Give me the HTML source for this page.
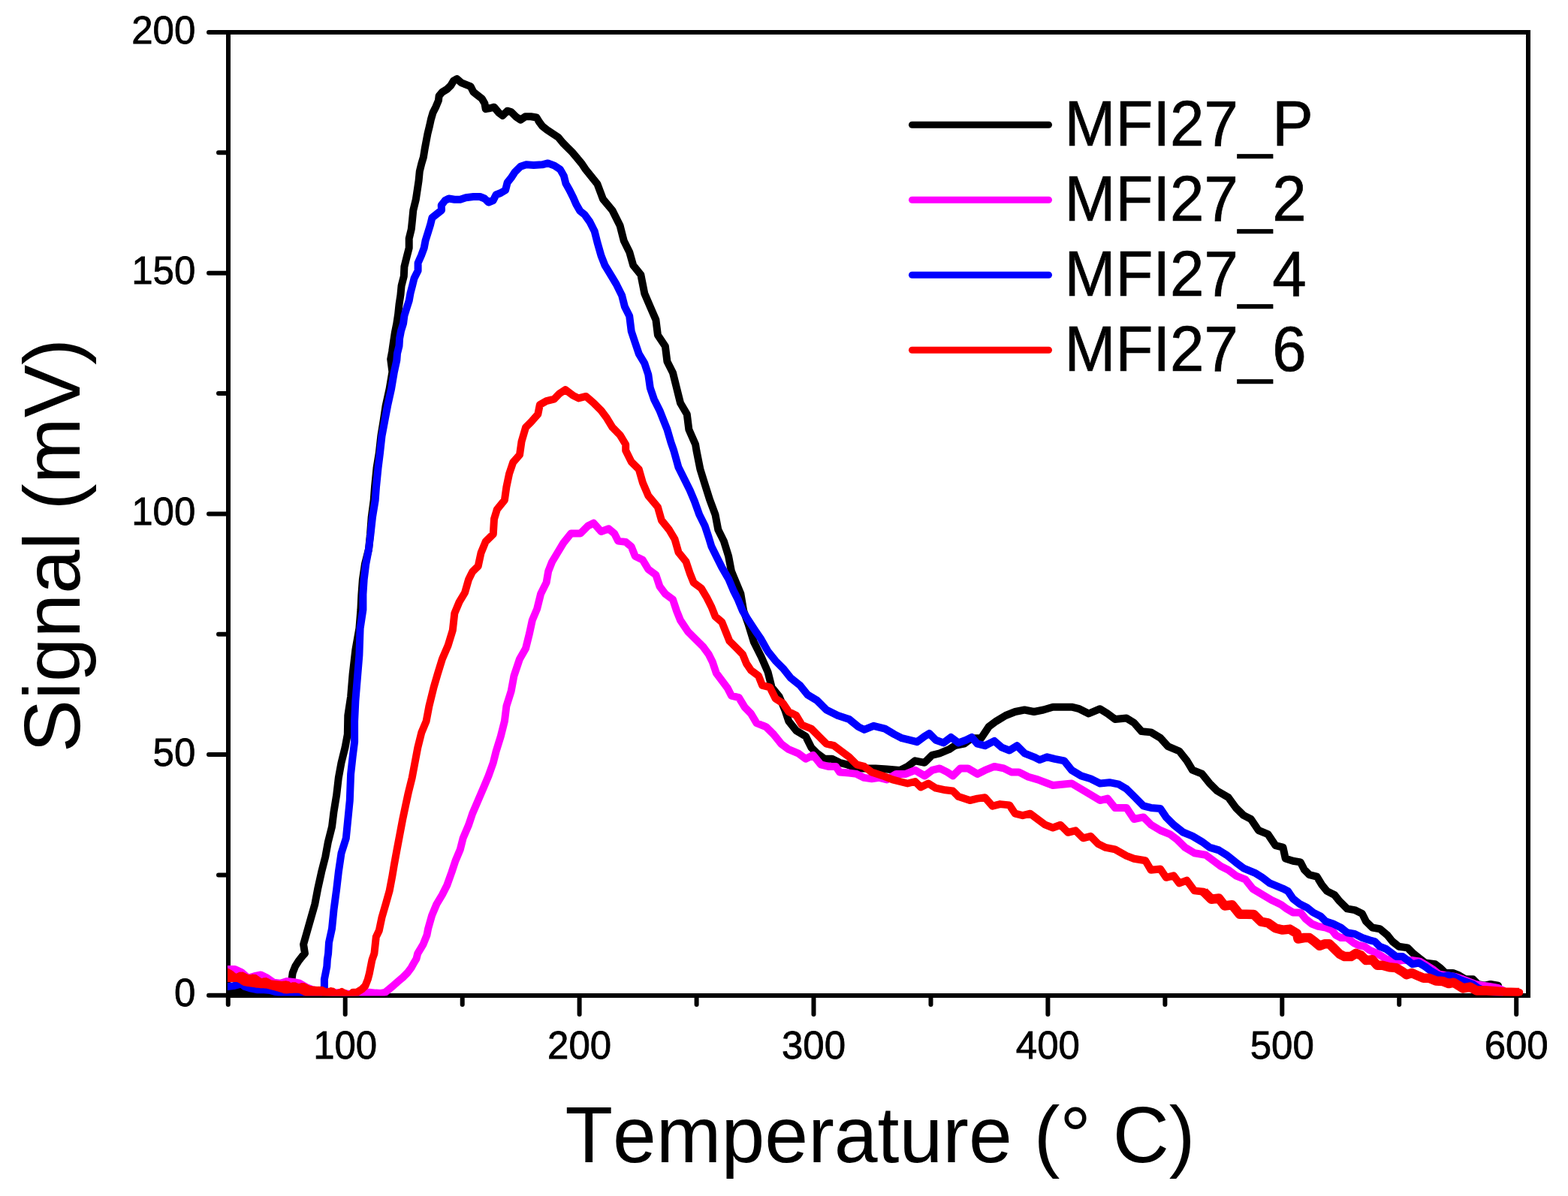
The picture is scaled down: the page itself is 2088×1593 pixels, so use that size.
<!DOCTYPE html><html><head><meta charset="utf-8"><style>html,body{margin:0;padding:0;background:#fff;}svg{display:block;}text{font-family:'Liberation Sans', Arial, sans-serif;fill:#000;font-kerning:none;}</style></head><body>
<svg width="2088" height="1593" viewBox="0 0 2088 1593">
<rect x="0" y="0" width="2088" height="1593" fill="#fff"/>
<g stroke="#000" stroke-width="6" fill="none">
<rect x="304" y="43" width="1731" height="1283"/>
<line x1="303.8" y1="1326" x2="303.8" y2="1338" stroke-linecap="round"/>
<line x1="459.7" y1="1326" x2="459.7" y2="1351" stroke-linecap="round"/>
<line x1="615.7" y1="1326" x2="615.7" y2="1338" stroke-linecap="round"/>
<line x1="771.6" y1="1326" x2="771.6" y2="1351" stroke-linecap="round"/>
<line x1="927.6" y1="1326" x2="927.6" y2="1338" stroke-linecap="round"/>
<line x1="1083.5" y1="1326" x2="1083.5" y2="1351" stroke-linecap="round"/>
<line x1="1239.5" y1="1326" x2="1239.5" y2="1338" stroke-linecap="round"/>
<line x1="1395.4" y1="1326" x2="1395.4" y2="1351" stroke-linecap="round"/>
<line x1="1551.4" y1="1326" x2="1551.4" y2="1338" stroke-linecap="round"/>
<line x1="1707.3" y1="1326" x2="1707.3" y2="1351" stroke-linecap="round"/>
<line x1="1863.2" y1="1326" x2="1863.2" y2="1338" stroke-linecap="round"/>
<line x1="2019.2" y1="1326" x2="2019.2" y2="1351" stroke-linecap="round"/>
<line x1="303" y1="1325.8" x2="278" y2="1325.8" stroke-linecap="round"/>
<line x1="303" y1="1165.5" x2="291" y2="1165.5" stroke-linecap="round"/>
<line x1="303" y1="1005.1" x2="278" y2="1005.1" stroke-linecap="round"/>
<line x1="303" y1="844.8" x2="291" y2="844.8" stroke-linecap="round"/>
<line x1="303" y1="684.4" x2="278" y2="684.4" stroke-linecap="round"/>
<line x1="303" y1="524.0" x2="291" y2="524.0" stroke-linecap="round"/>
<line x1="303" y1="363.7" x2="278" y2="363.7" stroke-linecap="round"/>
<line x1="303" y1="203.3" x2="291" y2="203.3" stroke-linecap="round"/>
<line x1="303" y1="43.0" x2="278" y2="43.0" stroke-linecap="round"/>
</g>
<defs><clipPath id="pc"><rect x="303" y="0" width="1733" height="1326.5"/></clipPath></defs><g clip-path="url(#pc)">
<path d="M303.0,1321.7 L321.6,1320.0 L338.8,1322.6 L359.5,1320.9 L373.3,1324.3 L384.5,1324.3 L387.9,1308.8 L389.7,1295.9 L393.1,1287.2 L397.4,1280.3 L403.4,1272.6 L406.0,1270.0 L404.1,1257.9 L409.3,1239.5 L414.3,1221.9 L419.3,1204.3 L423.1,1184.2 L428.1,1161.6 L433.2,1141.5 L436.9,1121.4 L442.0,1101.3 L444.5,1081.2 L448.2,1058.6 L450.8,1036.0 L454.5,1015.9 L459.5,995.8 L462.8,978.2 L463.3,953.1 L467.1,927.9 L469.6,897.8 L473.4,865.1 L478.4,837.0 L480.4,811.9 L481.4,791.8 L482.9,771.7 L485.9,751.6 L491.0,731.5 L493.0,711.4 L494.7,688.7 L497.7,666.1 L499.0,648.5 L501.5,623.4 L504.8,603.3 L507.3,580.7 L510.6,560.6 L513.6,540.5 L518.6,517.9 L522.4,495.3 L520.2,478.4 L522.1,468.3 L523.9,455.8 L525.8,443.2 L528.3,430.7 L530.2,418.1 L531.5,405.5 L533.4,393.0 L534.6,380.4 L537.8,367.9 L538.4,355.3 L541.5,342.8 L544.7,330.2 L544.7,317.7 L547.8,305.1 L549.1,292.6 L550.3,280.0 L553.8,265.7 L555.7,253.2 L557.6,240.6 L558.8,228.1 L561.3,218.0 L563.9,209.3 L565.7,198.0 L567.6,187.9 L569.5,177.9 L572.0,167.8 L573.9,159.0 L576.4,150.3 L580.2,142.7 L583.9,133.9 L584.6,127.7 L589.0,122.6 L595.2,118.9 L600.3,113.9 L604.0,107.6 L608.4,105.1 L614.1,110.1 L620.3,112.6 L626.6,115.1 L630.4,122.6 L635.4,126.4 L641.7,131.4 L645.4,137.7 L646.7,145.2 L653.0,144.0 L658.0,142.7 L664.3,150.3 L669.3,154.0 L675.6,147.7 L680.6,149.0 L686.9,155.3 L693.2,159.7 L699.4,155.3 L707.0,155.3 L714.5,156.5 L718.3,162.8 L722.0,167.8 L728.3,172.9 L735.8,177.9 L743.4,182.9 L749.6,190.4 L755.9,196.7 L762.2,203.0 L768.5,210.5 L774.7,218.0 L779.8,225.6 L795.5,245.2 L803.0,265.3 L815.6,280.4 L825.6,300.5 L830.7,320.6 L838.2,335.7 L843.2,353.3 L853.3,365.8 L858.3,391.0 L865.8,408.5 L873.4,426.1 L875.9,446.2 L885.9,461.3 L888.4,481.4 L896.0,496.5 L901.0,516.6 L906.0,536.7 L914.8,551.8 L917.3,571.9 L926.1,592.0 L927.4,600.0 L932.4,625.1 L938.7,645.2 L945.0,665.3 L952.5,685.4 L956.3,705.5 L963.8,720.6 L970.1,740.7 L973.9,760.8 L980.2,775.9 L986.4,791.0 L990.2,813.6 L996.5,831.2 L1003.8,855.0 L1013.8,875.1 L1022.6,895.2 L1027.6,915.3 L1037.7,927.9 L1045.2,945.5 L1050.3,960.6 L1060.3,973.1 L1072.9,980.7 L1080.4,995.7 L1087.9,1003.3 L1098.0,1010.8 L1108.0,1010.8 L1118.1,1015.8 L1128.1,1018.3 L1140.7,1023.4 L1165.8,1023.4 L1180.9,1024.6 L1198.5,1025.9 L1208.5,1020.9 L1218.6,1013.3 L1231.2,1015.8 L1241.2,1005.8 L1251.3,1003.3 L1263.8,998.2 L1271.4,993.2 L1283.9,990.7 L1294.0,983.2 L1306.5,983.2 L1316.6,968.1 L1326.6,960.6 L1339.2,953.0 L1351.8,948.0 L1364.3,945.5 L1376.9,948.0 L1389.4,945.5 L1402.0,941.7 L1414.6,941.7 L1427.1,941.7 L1437.2,944.2 L1449.7,950.5 L1464.8,944.2 L1474.9,950.5 L1484.9,958.0 L1500.0,956.5 L1510.1,962.8 L1520.1,974.1 L1532.7,975.4 L1545.2,982.9 L1555.3,994.2 L1570.4,1000.5 L1580.4,1013.1 L1587.9,1025.6 L1600.5,1030.7 L1610.6,1043.2 L1620.6,1053.3 L1635.7,1062.1 L1645.7,1075.9 L1655.8,1085.9 L1665.8,1091.0 L1675.9,1106.0 L1688.4,1111.1 L1698.5,1126.1 L1708.5,1128.6 L1711.7,1143.4 L1721.8,1146.7 L1731.8,1148.4 L1736.9,1158.4 L1743.6,1165.1 L1753.6,1167.7 L1760.3,1178.6 L1767.0,1186.9 L1777.1,1192.0 L1783.8,1200.3 L1793.9,1210.4 L1803.9,1212.1 L1814.0,1217.1 L1819.0,1227.2 L1827.4,1235.5 L1837.4,1237.2 L1847.5,1245.6 L1854.2,1254.0 L1862.6,1260.7 L1874.3,1262.4 L1881.0,1269.1 L1889.4,1275.8 L1897.8,1282.5 L1911.2,1284.2 L1917.9,1289.2 L1924.6,1295.9 L1934.7,1295.9 L1943.0,1299.2 L1951.4,1304.3 L1961.5,1304.3 L1968.2,1311.0 L1976.6,1312.6 L1984.9,1311.0 L1995.0,1312.6" fill="none" stroke="#000000" stroke-width="10" stroke-linejoin="round" stroke-linecap="round"/>
<path d="M303.0,1291.1 L312.9,1291.1 L321.6,1295.0 L330.2,1302.8 L338.8,1300.2 L347.4,1298.4 L356.0,1302.8 L364.7,1308.8 L373.3,1309.7 L381.9,1307.1 L390.5,1307.9 L399.1,1309.7 L407.8,1314.8 L416.4,1318.3 L425.0,1320.9 L437.9,1321.7 L455.2,1322.6 L468.1,1324.3 L481.2,1322.6 L491.6,1321.7 L500.2,1322.6 L507.1,1323.0 L513.1,1321.7 L518.3,1317.4 L523.4,1313.1 L530.3,1307.1 L536.4,1301.9 L542.4,1295.9 L547.6,1289.0 L551.0,1282.9 L554.5,1276.9 L556.2,1270.0 L563.5,1257.9 L568.5,1245.4 L570.1,1237.0 L575.1,1219.4 L581.4,1204.3 L588.9,1191.8 L595.2,1179.2 L601.5,1161.6 L606.5,1146.5 L612.8,1131.5 L616.6,1116.4 L624.1,1098.8 L629.1,1083.7 L636.7,1066.1 L644.2,1048.5 L650.5,1033.5 L656.8,1015.9 L660.6,1000.8 L666.8,980.7 L671.9,960.6 L674.4,940.5 L680.7,920.4 L684.4,900.3 L692.0,877.7 L700.0,863.8 L705.0,843.7 L708.8,826.1 L715.1,811.1 L720.1,791.0 L727.6,775.9 L730.2,760.8 L735.2,748.2 L742.7,735.7 L750.3,723.1 L760.3,710.6 L772.9,710.6 L782.9,700.5 L790.5,696.7 L800.5,708.0 L810.6,704.3 L818.1,710.6 L823.1,720.6 L833.2,721.9 L840.7,728.1 L845.7,740.7 L855.8,745.7 L863.3,758.3 L873.4,765.8 L878.4,780.9 L885.9,791.0 L896.0,798.5 L901.0,813.6 L906.0,826.1 L916.1,841.2 L926.1,851.3 L936.2,861.3 L943.7,871.4 L948.7,881.4 L953.8,896.5 L961.3,906.5 L968.8,916.6 L973.9,926.6 L983.9,929.1 L991.5,941.7 L1000.0,950.5 L1007.5,963.1 L1020.1,968.1 L1030.2,978.1 L1040.2,990.7 L1050.3,998.2 L1062.8,1003.3 L1072.9,1010.8 L1082.9,1005.8 L1093.0,1018.3 L1103.0,1020.9 L1113.1,1020.9 L1118.1,1028.4 L1130.7,1029.6 L1140.7,1030.9 L1150.8,1035.9 L1160.8,1037.2 L1170.9,1035.9 L1180.9,1038.4 L1193.5,1030.9 L1206.0,1030.9 L1218.6,1025.9 L1231.2,1033.4 L1241.2,1025.9 L1251.3,1023.4 L1261.3,1028.4 L1268.8,1033.4 L1278.9,1023.4 L1288.9,1023.4 L1301.5,1030.9 L1311.6,1025.9 L1324.1,1020.9 L1336.7,1023.4 L1346.7,1028.4 L1356.8,1028.4 L1369.3,1034.7 L1381.9,1038.4 L1392.0,1042.2 L1402.0,1046.0 L1414.6,1044.7 L1427.1,1043.5 L1439.7,1051.0 L1452.3,1058.5 L1464.8,1066.1 L1474.9,1063.6 L1484.9,1076.1 L1500.0,1075.9 L1510.1,1091.0 L1522.6,1088.4 L1532.7,1098.5 L1545.2,1106.0 L1557.8,1111.1 L1567.8,1118.6 L1577.9,1128.6 L1590.5,1136.2 L1605.5,1138.7 L1615.6,1146.2 L1625.6,1153.8 L1635.7,1158.8 L1645.7,1166.3 L1658.3,1171.4 L1668.3,1183.9 L1680.9,1191.5 L1693.5,1199.0 L1700.0,1202.0 L1706.7,1205.4 L1713.4,1210.4 L1721.8,1215.4 L1731.8,1215.4 L1738.6,1223.8 L1746.9,1230.5 L1755.3,1233.9 L1765.4,1235.5 L1773.8,1238.9 L1778.8,1245.6 L1785.5,1249.0 L1793.9,1249.0 L1802.2,1255.7 L1809.0,1259.0 L1817.3,1260.7 L1824.0,1265.7 L1832.4,1269.1 L1840.8,1274.1 L1845.8,1277.4 L1857.6,1280.8 L1867.6,1279.1 L1881.0,1279.1 L1891.1,1280.8 L1899.5,1285.8 L1907.8,1290.9 L1916.2,1297.6 L1926.3,1299.2 L1938.0,1300.9 L1948.1,1304.3 L1956.5,1307.6 L1964.8,1311.0 L1974.9,1312.6 L1984.9,1314.3 L1995.0,1316.0 L2001.7,1319.3" fill="none" stroke="#ff00ff" stroke-width="10" stroke-linejoin="round" stroke-linecap="round"/>
<path d="M303.0,1314.0 L311.2,1313.1 L321.6,1310.5 L325.9,1314.0 L334.5,1316.6 L343.1,1318.3 L351.7,1318.3 L360.3,1319.1 L369.0,1321.7 L377.6,1323.4 L386.2,1325.2 L394.8,1324.3 L403.4,1325.2 L412.1,1325.2 L422.4,1326.0 L431.9,1316.6 L431.9,1304.5 L433.6,1295.9 L435.3,1287.2 L435.8,1278.6 L437.1,1270.0 L438.0,1255.4 L442.0,1237.0 L444.5,1211.9 L448.2,1184.2 L450.8,1161.6 L454.5,1136.5 L460.8,1116.4 L463.3,1091.3 L465.8,1066.1 L467.1,1031.0 L469.6,1008.3 L472.1,988.2 L472.1,960.6 L473.4,933.0 L475.9,902.8 L478.4,872.7 L479.6,837.0 L483.4,811.9 L483.4,791.8 L484.7,771.7 L487.2,751.6 L491.0,731.5 L493.5,711.4 L496.0,688.7 L499.7,666.1 L501.0,648.5 L503.5,623.4 L506.0,603.3 L508.5,580.7 L512.3,560.6 L516.1,540.5 L521.1,517.9 L524.9,495.3 L528.3,480.0 L529.0,470.8 L531.5,460.8 L532.1,450.7 L534.0,440.7 L537.1,430.7 L538.4,420.6 L541.5,410.6 L544.7,400.5 L546.5,390.5 L549.1,380.4 L551.6,370.4 L556.6,360.4 L556.6,350.3 L561.0,340.3 L564.7,330.2 L566.6,320.2 L569.8,310.1 L572.9,300.1 L575.4,290.0 L588.0,280.0 L587.7,273.3 L592.7,267.0 L597.7,264.5 L605.3,265.7 L612.8,265.7 L620.3,263.2 L630.4,262.0 L639.2,262.0 L645.4,264.5 L650.5,269.5 L656.7,267.0 L660.5,259.5 L666.8,257.0 L673.1,253.2 L675.6,243.2 L680.6,236.9 L685.6,229.3 L693.2,221.8 L700.7,219.3 L710.7,219.9 L722.0,219.3 L729.6,217.4 L738.3,220.6 L745.9,225.6 L750.9,234.4 L753.4,244.4 L758.4,253.2 L763.4,263.2 L767.2,272.0 L772.2,280.8 L778.5,285.8 L785.4,295.5 L791.7,308.0 L795.5,323.1 L800.5,340.7 L805.5,353.3 L813.1,365.8 L820.6,378.4 L828.1,393.5 L831.9,408.5 L838.2,421.1 L840.7,441.2 L845.7,456.3 L850.8,471.4 L858.3,483.9 L863.3,499.0 L865.8,516.6 L870.9,531.7 L878.4,546.7 L883.4,559.3 L888.4,571.9 L893.5,589.4 L897.2,600.0 L903.5,622.6 L911.1,637.7 L918.6,652.8 L924.9,667.8 L931.2,685.4 L938.7,700.5 L943.7,715.6 L947.5,728.1 L953.8,740.7 L961.3,755.8 L970.1,770.9 L976.4,785.9 L982.7,798.5 L988.9,813.6 L996.5,826.1 L1006.5,841.2 L1012.6,850.0 L1022.6,867.6 L1032.7,880.2 L1042.7,890.2 L1052.8,902.8 L1065.3,912.8 L1075.4,925.4 L1087.9,932.9 L1100.5,945.5 L1115.6,953.0 L1130.7,958.0 L1143.2,968.1 L1150.8,971.9 L1163.3,966.8 L1178.4,970.6 L1191.0,978.1 L1201.0,983.2 L1211.1,985.7 L1221.1,988.2 L1231.2,980.7 L1237.4,976.9 L1246.2,985.7 L1256.3,989.4 L1266.3,981.9 L1276.4,989.4 L1286.4,985.7 L1294.0,981.9 L1301.5,990.7 L1311.6,993.2 L1324.1,986.9 L1334.2,995.7 L1344.2,999.5 L1354.3,993.2 L1364.3,1003.3 L1376.9,1008.3 L1384.4,1012.1 L1394.5,1008.3 L1404.5,1010.8 L1417.1,1013.3 L1427.1,1025.9 L1439.7,1033.4 L1452.3,1037.2 L1464.8,1043.5 L1477.4,1042.2 L1489.9,1044.7 L1500.0,1050.8 L1510.1,1060.8 L1522.6,1073.4 L1532.7,1075.9 L1545.2,1077.1 L1552.8,1088.4 L1562.8,1098.5 L1575.4,1108.5 L1587.9,1113.6 L1600.5,1121.1 L1610.6,1128.6 L1623.1,1132.4 L1633.2,1138.7 L1645.7,1148.7 L1655.8,1156.3 L1670.9,1162.6 L1680.9,1168.8 L1691.0,1176.4 L1700.0,1180.2 L1708.4,1183.6 L1715.1,1186.9 L1721.8,1197.0 L1730.2,1203.7 L1740.2,1208.7 L1748.6,1215.4 L1758.7,1220.5 L1765.4,1227.2 L1775.4,1230.5 L1785.5,1235.5 L1793.9,1242.2 L1803.9,1243.9 L1814.0,1249.0 L1824.0,1252.3 L1830.7,1254.0 L1837.4,1260.7 L1845.8,1264.0 L1852.5,1269.1 L1859.2,1274.1 L1867.6,1274.1 L1874.3,1279.1 L1881.0,1284.2 L1889.4,1282.5 L1897.8,1287.5 L1904.5,1292.5 L1912.9,1297.6 L1921.3,1300.9 L1928.0,1299.2 L1936.3,1300.9 L1943.0,1304.3 L1951.4,1307.6 L1961.5,1311.0 L1968.2,1316.0 L1976.6,1319.3 L1984.9,1321.0 L1998.4,1322.7" fill="none" stroke="#0000ff" stroke-width="10" stroke-linejoin="round" stroke-linecap="round"/>
<path d="M303.0,1294.7 L304.2,1303.1 L305.4,1296.1 L306.6,1303.1 L307.8,1297.6 L309.1,1303.1 L310.3,1299.7 L311.5,1303.1 L312.7,1302.2 L313.9,1303.1 L315.1,1301.6 L316.3,1303.1 L317.5,1300.6 L318.7,1304.0 L319.9,1299.6 L321.1,1305.4 L322.3,1299.4 L323.5,1306.9 L324.7,1300.6 L325.9,1308.3 L327.2,1301.8 L328.4,1308.7 L329.6,1303.0 L330.8,1309.0 L332.0,1303.1 L333.2,1309.4 L334.4,1302.9 L335.6,1309.7 L336.8,1302.6 L338.0,1310.1 L339.2,1302.7 L340.4,1310.5 L341.6,1304.4 L342.8,1310.8 L344.1,1306.1 L345.3,1311.0 L346.5,1307.8 L347.7,1311.2 L348.9,1308.0 L350.1,1311.3 L351.3,1307.3 L352.5,1311.5 L353.7,1306.9 L354.9,1311.6 L356.1,1308.1 L357.3,1312.1 L358.5,1309.3 L359.7,1312.7 L360.9,1310.2 L362.2,1313.4 L363.4,1310.5 L364.6,1314.0 L365.8,1310.7 L367.0,1314.6 L368.2,1311.0 L369.4,1315.3 L370.6,1311.3 L371.8,1316.0 L373.0,1311.6 L374.2,1316.8 L375.4,1311.8 L376.6,1317.5 L377.8,1311.5 L379.1,1318.3 L380.3,1311.2 L381.5,1318.5 L382.7,1311.7 L383.9,1318.3 L385.1,1313.6 L386.3,1318.1 L387.5,1314.1 L388.7,1317.9 L389.9,1313.2 L391.1,1317.8 L392.3,1313.2 L393.5,1317.8 L394.7,1314.2 L395.9,1317.8 L397.2,1315.2 L398.4,1317.8 L399.6,1314.7 L400.8,1318.6 L402.0,1314.0 L403.2,1319.8 L404.4,1314.1 L405.6,1321.0 L406.8,1315.3 L408.0,1322.1 L409.2,1316.5 L410.4,1322.1 L411.6,1317.7 L412.8,1322.1 L414.1,1318.1 L415.3,1322.1 L416.5,1318.4 L417.7,1322.1 L418.9,1318.6 L420.1,1322.1 L421.3,1318.8 L422.5,1322.1 L423.7,1318.8 L424.9,1322.1 L426.1,1318.8 L427.3,1322.1 L428.5,1318.8 L429.7,1322.1 L430.9,1319.9 L432.2,1322.1 L433.4,1321.6 L434.6,1322.1 L435.8,1321.3 L437.0,1322.1 L438.2,1320.7 L439.4,1322.1 L440.6,1320.1 L441.8,1322.1 L443.0,1320.5 L444.2,1322.1 L445.4,1323.2 L446.6,1324.4 L447.8,1323.9 L449.1,1323.4 L450.3,1322.9 L451.5,1322.4 L452.7,1321.9 L453.9,1322.1 L455.1,1321.0 L456.3,1322.1 L457.5,1322.2 L458.7,1322.9 L459.9,1323.6 L461.1,1324.2 L462.3,1324.9 L463.5,1325.5 L464.7,1325.3 L465.9,1324.7 L467.2,1324.2 L468.4,1323.6 L469.6,1323.1 L470.0,1321.7 L475.2,1321.7 L482.1,1317.4 L486.4,1313.1 L489.8,1304.5 L492.0,1295.9 L493.7,1287.2 L495.4,1278.6 L498.4,1270.0 L500.8,1247.9 L504.8,1239.5 L508.5,1221.9 L513.6,1204.3 L518.6,1186.7 L522.4,1166.6 L524.9,1151.6 L528.6,1131.5 L532.4,1111.4 L536.2,1091.3 L539.9,1073.7 L543.7,1056.1 L548.7,1036.0 L552.5,1015.9 L556.3,995.8 L561.3,975.7 L567.6,960.6 L571.4,940.5 L577.6,915.4 L582.7,897.8 L588.9,877.7 L596.5,860.1 L602.8,839.5 L605.3,816.9 L611.6,801.8 L619.1,789.2 L624.1,771.7 L629.1,761.6 L636.7,754.1 L640.5,736.5 L646.7,721.4 L656.8,711.4 L658.0,691.3 L661.8,678.7 L671.9,666.1 L674.4,648.5 L678.1,631.0 L683.2,615.9 L692.0,605.8 L694.5,588.2 L700.0,569.3 L707.5,561.8 L716.3,551.8 L718.8,539.2 L727.6,534.2 L737.7,531.7 L745.2,524.1 L752.8,519.1 L762.8,526.6 L770.4,530.4 L780.4,527.9 L790.5,536.7 L800.5,546.7 L808.0,556.8 L815.6,569.3 L825.6,579.4 L833.2,592.0 L833.2,600.0 L840.7,615.1 L850.8,625.1 L855.8,642.7 L863.3,660.3 L875.9,675.4 L880.9,693.0 L891.0,705.5 L898.5,718.1 L903.5,735.7 L913.6,748.2 L918.6,763.3 L923.6,775.9 L933.7,783.4 L941.2,796.0 L947.5,808.5 L952.5,821.1 L961.3,828.6 L966.3,841.2 L971.4,853.8 L981.4,863.8 L988.9,871.4 L994.0,883.9 L1000.0,892.7 L1010.1,900.3 L1015.1,912.8 L1025.1,915.3 L1032.7,930.4 L1042.7,936.7 L1050.3,948.0 L1060.3,953.0 L1067.8,965.6 L1080.4,970.6 L1090.5,980.7 L1100.5,990.7 L1110.6,993.2 L1120.6,1000.8 L1130.7,1008.3 L1140.7,1018.3 L1150.8,1020.9 L1160.8,1028.4 L1175.9,1033.4 L1188.4,1038.4 L1198.5,1041.0 L1208.5,1043.5 L1218.6,1041.0 L1226.1,1048.5 L1236.2,1043.5 L1246.2,1049.7 L1258.8,1052.3 L1268.8,1053.5 L1276.4,1061.1 L1291.5,1066.1 L1301.5,1063.6 L1311.6,1062.3 L1321.6,1073.6 L1331.7,1071.1 L1344.2,1072.4 L1351.8,1083.7 L1361.8,1086.2 L1371.9,1083.7 L1381.9,1091.2 L1392.0,1098.7 L1402.0,1102.5 L1412.1,1098.7 L1422.1,1108.8 L1432.2,1106.3 L1442.2,1116.3 L1452.3,1113.8 L1462.3,1123.9 L1472.4,1128.9 L1484.9,1131.4 L1500.0,1139.9 L1510.1,1143.7 L1525.1,1146.2 L1532.7,1158.8 L1545.2,1157.5 L1552.8,1168.8 L1562.8,1166.3 L1570.4,1176.4 L1580.4,1172.6 L1590.5,1186.4 L1603.0,1187.7 L1613.1,1197.7 L1623.1,1196.5 L1630.7,1206.5 L1640.7,1205.3 L1650.8,1217.8 L1660.0,1217.8 L1669.6,1218.0 L1679.2,1227.6 L1688.7,1229.3 L1698.3,1236.2 L1707.9,1238.6 L1717.5,1237.6 L1727.0,1243.4 L1728.5,1250.6 L1736.9,1249.0 L1743.6,1249.0 L1750.3,1254.0 L1757.0,1259.8 L1763.7,1257.3 L1770.4,1257.3 L1777.1,1264.0 L1783.8,1270.7 L1790.5,1274.1 L1798.9,1274.1 L1805.6,1269.9 L1812.3,1272.4 L1819.0,1279.1 L1827.4,1278.3 L1834.1,1285.8 L1840.8,1285.8 L1850.0,1288.2 L1859.1,1289.1 L1868.2,1294.6 L1872.7,1298.2 L1880.0,1296.0 L1889.1,1300.1 L1895.5,1302.8 L1902.8,1302.8 L1911.9,1306.4 L1921.0,1306.9 L1929.2,1310.1 L1935.5,1308.7 L1941.0,1311.9 L1948.3,1316.4 L1957.4,1314.6 L1966.5,1319.6 L1977.4,1319.2 L1991.0,1320.3 L2004.7,1321.4 L2019.2,1321.9 L2023.3,1321.9" fill="none" stroke="#ff0000" stroke-width="10" stroke-linejoin="round" stroke-linecap="round"/>
<path d="M1603.0,1187.7 L1613.1,1197.7 L1623.1,1196.5 L1630.7,1206.5 L1640.7,1205.3 L1650.8,1217.8 L1660.0,1217.8 L1669.6,1218.0 L1679.2,1227.6 L1688.7,1229.3 L1698.3,1236.2 L1707.9,1238.6 L1717.5,1237.6 L1727.0,1243.4 L1728.5,1250.6 L1736.9,1249.0 L1743.6,1249.0 L1750.3,1254.0 L1757.0,1259.8 L1763.7,1257.3 L1770.4,1257.3 L1777.1,1264.0 L1783.8,1270.7 L1790.5,1274.1 L1798.9,1274.1 L1805.6,1269.9 L1812.3,1272.4 L1819.0,1279.1 L1827.4,1278.3 L1834.1,1285.8 L1840.8,1285.8 L1850.0,1288.2 L1859.1,1289.1 L1868.2,1294.6 L1872.7,1298.2 L1880.0,1296.0 L1889.1,1300.1 L1895.5,1302.8 L1902.8,1302.8 L1911.9,1306.4 L1921.0,1306.9 L1929.2,1310.1 L1935.5,1308.7 L1941.0,1311.9 L1948.3,1316.4 L1957.4,1314.6 L1966.5,1319.6 L1977.4,1319.2 L1991.0,1320.3 L2004.7,1321.4 L2019.2,1321.9 L2023.3,1321.9" fill="none" stroke="#ff0000" stroke-width="12.5" stroke-linejoin="round" stroke-linecap="butt"/>
</g>
<text transform="translate(459.7,1409.5) scale(1,1.02)" font-size="51" text-anchor="middle" stroke="#000" stroke-width="0.8">100</text>
<text transform="translate(771.6,1409.5) scale(1,1.02)" font-size="51" text-anchor="middle" stroke="#000" stroke-width="0.8">200</text>
<text transform="translate(1083.5,1409.5) scale(1,1.02)" font-size="51" text-anchor="middle" stroke="#000" stroke-width="0.8">300</text>
<text transform="translate(1395.4,1409.5) scale(1,1.02)" font-size="51" text-anchor="middle" stroke="#000" stroke-width="0.8">400</text>
<text transform="translate(1707.3,1409.5) scale(1,1.02)" font-size="51" text-anchor="middle" stroke="#000" stroke-width="0.8">500</text>
<text transform="translate(2019.2,1409.5) scale(1,1.02)" font-size="51" text-anchor="middle" stroke="#000" stroke-width="0.8">600</text>
<text transform="translate(260.3,1340.4) scale(1,1.02)" font-size="51" text-anchor="end" stroke="#000" stroke-width="0.8">0</text>
<text transform="translate(260.3,1019.7) scale(1,1.02)" font-size="51" text-anchor="end" stroke="#000" stroke-width="0.8">50</text>
<text transform="translate(260.3,699.0) scale(1,1.02)" font-size="51" text-anchor="end" stroke="#000" stroke-width="0.8">100</text>
<text transform="translate(260.3,378.3) scale(1,1.02)" font-size="51" text-anchor="end" stroke="#000" stroke-width="0.8">150</text>
<text transform="translate(260.3,57.6) scale(1,1.02)" font-size="51" text-anchor="end" stroke="#000" stroke-width="0.8">200</text>
<text transform="translate(752.5,1547.5) scale(1,1.02)" font-size="104">Temperature (° C)</text>
<text transform="translate(105.9,726.5) rotate(-90) scale(1.015,1.02)" font-size="104" text-anchor="middle">Signal (mV)</text>
<line x1="1214.5" y1="166.2" x2="1396.5" y2="166.2" stroke="#000000" stroke-width="9" stroke-linecap="round"/>
<text transform="translate(1417.6,193.8) scale(1.016,1.05)" font-size="80.3" stroke="#000" stroke-width="0.7">MFI27_P</text>
<line x1="1214.5" y1="266.2" x2="1396.5" y2="266.2" stroke="#ff00ff" stroke-width="9" stroke-linecap="round"/>
<text transform="translate(1417.6,293.8) scale(1.016,1.05)" font-size="80.3" stroke="#000" stroke-width="0.7">MFI27_2</text>
<line x1="1214.5" y1="366.2" x2="1396.5" y2="366.2" stroke="#0000ff" stroke-width="9" stroke-linecap="round"/>
<text transform="translate(1417.6,393.8) scale(1.016,1.05)" font-size="80.3" stroke="#000" stroke-width="0.7">MFI27_4</text>
<line x1="1214.5" y1="466.2" x2="1396.5" y2="466.2" stroke="#ff0000" stroke-width="9" stroke-linecap="round"/>
<text transform="translate(1417.6,493.8) scale(1.016,1.05)" font-size="80.3" stroke="#000" stroke-width="0.7">MFI27_6</text>
</svg></body></html>
